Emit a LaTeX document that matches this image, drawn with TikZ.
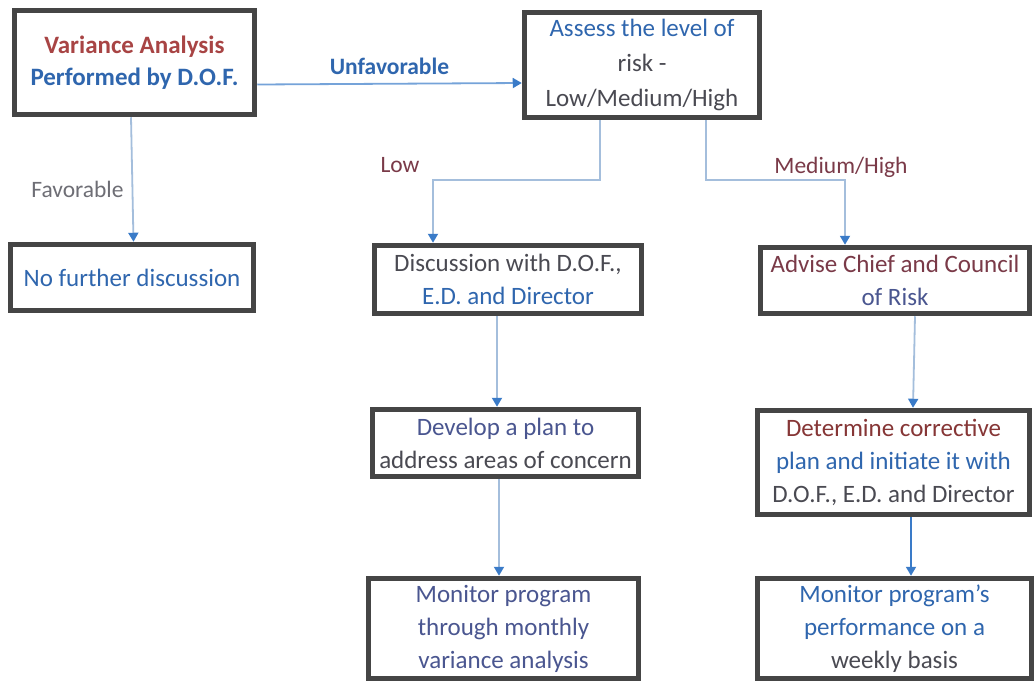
\documentclass[tikz,border=0pt]{standalone}
\usepackage{fontspec}
\setmainfont{Carlito}
\usetikzlibrary{arrows.meta,calc}
\definecolor{boxline}{HTML}{454545}
\definecolor{conn}{HTML}{A4BEDC}
\definecolor{tipc}{HTML}{3A7BC8}
\definecolor{tblue}{HTML}{2F66AE}
\definecolor{tred}{HTML}{A84444}
\definecolor{tgray}{HTML}{4A4A52}
\definecolor{tmix}{HTML}{4A5690}
\definecolor{lred}{HTML}{7A3A48}
\begin{document}
\begin{tikzpicture}[x=1pt,y=-1pt,
  box/.style={draw=boxline,line width=5.5pt,fill=white,align=center,inner sep=1pt,
    font=\fontsize{25}{33}\selectfont,text=tgray},
  conline/.style={draw=conn,line width=1.8pt,-{Triangle[width=10pt,length=9pt,color=tipc]}},
  lbl/.style={font=\fontsize{23.5}{28}\selectfont,inner sep=0pt}]
\useasboundingbox (0,0) rectangle (1034,681);
\fill[white] (0,0) rectangle (1034,681);

\node[box,minimum width=240pt,minimum height=104pt] (var) at (134.5,62.5)
  {\bfseries\color{tred}Variance Analysis\\[-1pt]\bfseries\color{tblue}Performed by D.O.F.};
\node[box,minimum width=235pt,minimum height=105pt,font=\fontsize{25}{35}\selectfont] (assess) at (642,65)
  {\color{tblue}Assess the level of\\ risk -\\ Low/Medium/High};
\node[box,minimum width=243pt,minimum height=66pt,text=tblue] (nofur) at (132,277.5)
  {No further discussion};
\node[box,minimum width=267pt,minimum height=68pt] (disc) at (508,279.5)
  {Discussion with D.O.F.,\\ \color{tblue}E.D. and Director};
\node[box,minimum width=269pt,minimum height=66pt,text=tmix] (adv) at (895,280.5)
  {\color{lred}Advise Chief and Council\\ of Risk};
\node[box,minimum width=266pt,minimum height=67pt] (dev) at (505.5,443)
  {\color{tmix}Develop a plan to\\ address areas of concern};
\node[box,minimum width=272pt,minimum height=104pt] (det) at (893.5,462.5)
  {\color{tred!80!black}Determine corrective\\ \color{tblue}plan and initiate it with\\ D.O.F., E.D. and Director};
\node[box,minimum width=270pt,minimum height=100pt,text=tmix] (monl) at (503.5,628.5)
  {Monitor program\\ through monthly\\ variance analysis};
\node[box,minimum width=274pt,minimum height=100pt,text=tblue] (monr) at (894.5,628.5)
  {Monitor program's\\ performance on a\\ \color{tgray}weekly basis};

% connectors
\draw[conline,draw=tipc!70!white] ([yshift=-22pt]var.east) -- ([yshift=-18pt]assess.west)
  node[lbl,pos=0.5,above=8pt,text=tblue,font=\fontsize{23.5}{28}\selectfont\bfseries] (lunf) {Unfavorable};
\draw[conline] ([xshift=-3.5pt]var.south) -- ([xshift=-1pt]var.south |- nofur.north)
  node[lbl,pos=0.58,left=8pt,text=tgray!80] (lfav) {Favorable};
\coordinate (lowturn) at ($([xshift=-42pt]assess.south)+(0,60)$);
\draw[conline] ([xshift=-42pt]assess.south) -- (lowturn) -| ([xshift=-75pt]disc.north);
\node[lbl,text=lred] (llow) at (400,165) {Low};
\coordinate (medturn) at ($([xshift=64pt]assess.south)+(0,60)$);
\draw[conline] ([xshift=64pt]assess.south) -- (medturn) -| ([xshift=-50pt]adv.north);
\node[lbl,text=lred] (lmed) at (841,167) {Medium/High};
\draw[conline] ([xshift=-11pt]disc.south) -- ([xshift=-8.5pt]dev.north);
\draw[conline] ([xshift=-6.5pt]dev.south) -- ([xshift=-4.5pt]monl.north);
\draw[conline] ([xshift=20pt]adv.south) -- ([xshift=19.5pt]det.north);
\draw[conline,draw=tipc] ([xshift=17.5pt]det.south) -- ([xshift=16.5pt]monr.north);
\end{tikzpicture}
\end{document}
